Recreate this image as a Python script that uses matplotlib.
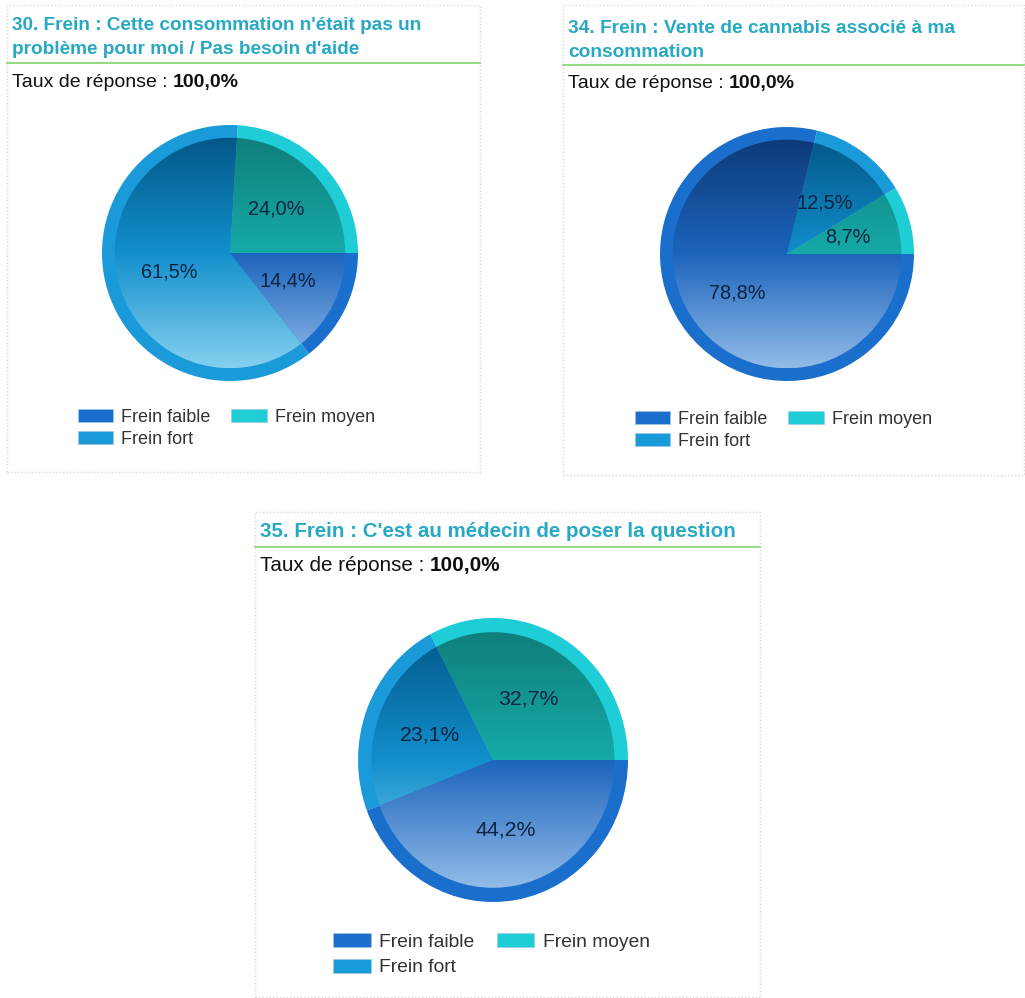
import numpy as np
import matplotlib
matplotlib.use("Agg")
import matplotlib.pyplot as plt
from matplotlib.patches import Wedge, Rectangle, Patch
from matplotlib.colors import LinearSegmentedColormap

plt.rcParams['font.family'] = ['Liberation Sans', 'DejaVu Sans']

# data
categories = ["Frein faible", "Frein fort", "Frein moyen"]
titles = [
    ["30. Frein : Cette consommation n'était pas un", "problème pour moi / Pas besoin d'aide"],
    ["34. Frein : Vente de cannabis associé à ma", "consommation"],
    ["35. Frein : C'est au médecin de poser la question"],
]
taux = ["100,0%", "100,0%", "100,0%"]
# slice order counterclockwise from 3 o'clock: moyen, fort, faible
slice_order = ["Frein moyen", "Frein fort", "Frein faible"]
vals_30 = [24.0, 61.5, 14.4]
vals_34 = [8.7, 12.5, 78.8]
vals_35 = [32.7, 23.1, 44.2]

base_col = {"Frein faible": "#1b6fcc", "Frein fort": "#1a9ad8", "Frein moyen": "#1fcdd6"}
grad_col = {"Frein faible": ["#0d3b78", "#1c64bc", "#92bbe8"],
            "Frein fort": ["#045888", "#118fcc", "#86d0f0"],
            "Frein moyen": ["#0f7f7c", "#16aaa8", "#22d2d6"]}

W, H = 1025, 998
fig = plt.figure(figsize=(W / 100, H / 100), dpi=100)


def fx(x):
    return x / W


def fy(y):
    return 1 - y / H


def panel(x0, y0, x1, y1, title_lines, title_base, line_y, taux_base, rate, fs_t, fs_r):
    fig.patches.append(Rectangle((fx(x0), fy(y1)), fx(x1) - fx(x0), fy(y0) - fy(y1),
                                 transform=fig.transFigure, fill=False, ec="#d8d8d8",
                                 lw=1, ls=(0, (1, 1.5))))
    for i, t in enumerate(title_lines):
        fig.text(fx(x0 + 5), fy(title_base[i]), t, color="#27a9c3", fontsize=fs_t,
                 fontweight="bold", va="baseline", ha="left")
    fig.add_artist(plt.Line2D([fx(x0), fx(x1)], [fy(line_y), fy(line_y)],
                              transform=fig.transFigure, color="#8dd77a", lw=1.3))
    t1 = fig.text(fx(x0 + 5), fy(taux_base), "Taux de réponse : ", fontsize=fs_r,
                  va="baseline", ha="left", color="#111111")
    fig.canvas.draw()
    bb = t1.get_window_extent()
    fig.text(bb.x1 / W, fy(taux_base), rate, fontsize=fs_r, fontweight="bold",
             va="baseline", ha="left", color="#111111")


def draw_pie(cx, cy, rx, ry, vals, fs):
    ax = fig.add_axes([fx(cx - rx), fy(cy + ry), 2 * rx / W, 2 * ry / H])
    labels = [f"{v:.1f}".replace(".", ",") + "%" for v in vals]
    it = iter(labels)
    wedges, texts, autotexts = ax.pie(vals, startangle=0, counterclock=True,
                                      colors=[base_col[c] for c in slice_order],
                                      autopct=lambda p: next(it), pctdistance=0.5,
                                      wedgeprops=dict(linewidth=0))
    grad = np.linspace(0, 1, 256).reshape(-1, 1)
    for w, c in zip(wedges, slice_order):
        inner = Wedge((0, 0), 0.9, w.theta1, w.theta2, transform=ax.transData,
                      fc="none", ec="none")
        ax.add_patch(inner)
        cmap = LinearSegmentedColormap.from_list(c, grad_col[c])
        im = ax.imshow(grad, cmap=cmap, extent=[-1, 1, -0.9, 0.9], origin="upper",
                       aspect="auto", zorder=1.5)
        im.set_clip_path(inner)
    for t in autotexts:
        t.set_fontsize(fs)
        t.set_color("#0b2440")
        t.set_zorder(5)
    ax.set_xlim(-1, 1)
    ax.set_ylim(-1, 1)
    ax.set_aspect("auto")
    ax.axis("off")


def legend(x, y, fs, spacing):
    handles = [Patch(fc=base_col[c], ec="#9fc6e6", lw=0.5) for c in categories]
    fig.legend(handles, categories, loc="upper left",
               bbox_to_anchor=(fx(x), fy(y)), bbox_transform=fig.transFigure,
               ncol=2, frameon=False, fontsize=fs, handlelength=1.95,
               handleheight=0.72, handletextpad=0.45, labelspacing=spacing,
               columnspacing=1.15, borderpad=0, borderaxespad=0, labelcolor="#333333")


panel(7, 5, 480, 472, titles[0], [30, 54], 63, 87, taux[0], 13.7, 14.0)
panel(563, 5, 1024, 475, titles[1], [33, 57], 65, 88, taux[1], 13.8, 14.0)
panel(255, 512, 760, 997, titles[2], [537], 547, 571, taux[2], 14.8, 14.9)

draw_pie(230, 253, 128, 128, vals_30, 14.3)
draw_pie(787, 254, 127, 127, vals_34, 14.3)
draw_pie(493, 760, 135, 142, vals_35, 15.3)

legend(78, 409, 13, 0.27)
legend(635, 411, 13, 0.27)
legend(333, 933, 13.9, 0.42)

fig.savefig("out.png", dpi=100)
